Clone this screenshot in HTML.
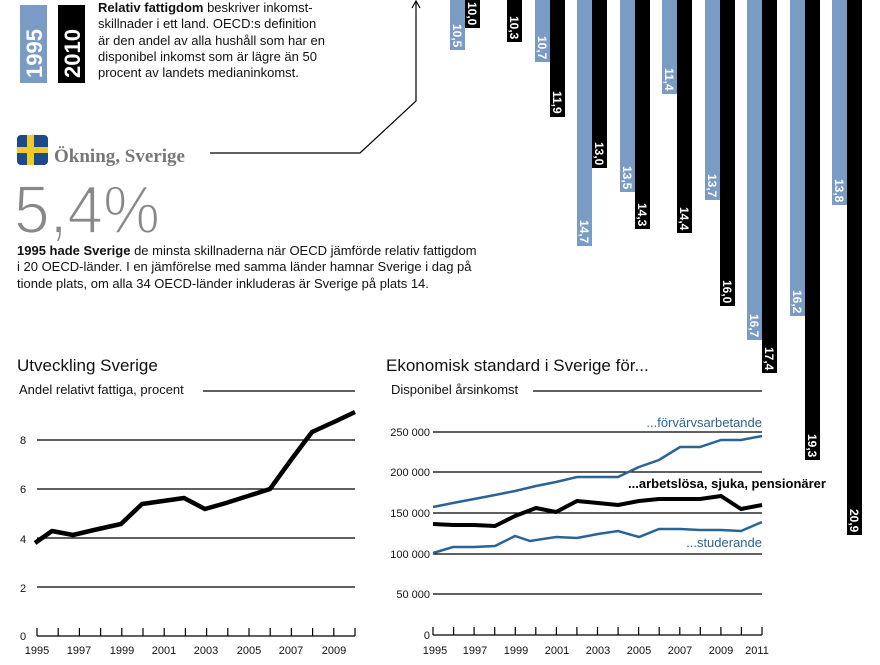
<!DOCTYPE html>
<html><head><meta charset="utf-8"><style>
body{margin:0;width:880px;height:665px;background:#fff;overflow:hidden;position:relative;font-family:"Liberation Sans","DejaVu Sans",sans-serif;color:#111}
.t{position:absolute;white-space:nowrap}
</style></head><body>
<svg width="880" height="665" style="position:absolute;left:0;top:0" font-family="Liberation Sans, DejaVu Sans, sans-serif">
<rect x="20" y="5" width="27" height="78" fill="#7a9cc4"/>
<rect x="58" y="5" width="27" height="78" fill="#000"/>
<text transform="translate(42,78) rotate(-90)" fill="#fff" font-weight="bold" font-size="22">1995</text>
<text transform="translate(80,78) rotate(-90)" fill="#fff" font-weight="bold" font-size="22">2010</text>
<rect x="17" y="135" width="31" height="30" rx="4" fill="#1e4a8a"/>
<rect x="27" y="135" width="7" height="30" fill="#f0c832"/>
<rect x="17" y="147" width="31" height="6" fill="#f0c832"/>
<polyline points="210,153 360,153 416,101 416,2" fill="none" stroke="#000" stroke-width="1.2"/>
<polyline points="412,8 416,1 420,8" fill="none" stroke="#000" stroke-width="1.2"/>
<text x="54" y="162" font-family="Liberation Serif, DejaVu Serif, serif" font-weight="bold" font-size="19" fill="#777">Ökning, Sverige</text>
<text x="14" y="233" font-size="68" fill="#888" stroke="#fff" stroke-width="1.8" textLength="146" lengthAdjust="spacingAndGlyphs">5,4%</text>
<g font-size="12" font-weight="bold" fill="#fff">
<rect x="450" y="0" width="15" height="50" fill="#7a9cc4"/><rect x="465" y="0" width="15" height="28" fill="#000"/>
<rect x="507" y="0" width="15" height="42" fill="#000"/>
<rect x="535" y="0" width="15" height="62" fill="#7a9cc4"/><rect x="550" y="0" width="15" height="117" fill="#000"/>
<rect x="577" y="0" width="15" height="246" fill="#7a9cc4"/><rect x="592" y="0" width="15" height="168" fill="#000"/>
<rect x="620" y="0" width="15" height="192" fill="#7a9cc4"/><rect x="635" y="0" width="15" height="229" fill="#000"/>
<rect x="662" y="0" width="15" height="94" fill="#7a9cc4"/><rect x="677" y="0" width="15" height="233" fill="#000"/>
<rect x="705" y="0" width="15" height="200" fill="#7a9cc4"/><rect x="720" y="0" width="15" height="306" fill="#000"/>
<rect x="747" y="0" width="15" height="340" fill="#7a9cc4"/><rect x="762" y="0" width="15" height="373" fill="#000"/>
<rect x="790" y="0" width="15" height="316" fill="#7a9cc4"/><rect x="805" y="0" width="15" height="460" fill="#000"/>
<rect x="832" y="0" width="15" height="205" fill="#7a9cc4"/><rect x="847" y="0" width="15" height="535" fill="#000"/>
<text transform="translate(453,24) rotate(90)">10,5</text>
<text transform="translate(468,2) rotate(90)">10,0</text>
<text transform="translate(510,16) rotate(90)">10,3</text>
<text transform="translate(538,36) rotate(90)">10,7</text>
<text transform="translate(553,91) rotate(90)">11,9</text>
<text transform="translate(580,220) rotate(90)">14,7</text>
<text transform="translate(595,142) rotate(90)">13,0</text>
<text transform="translate(623,166) rotate(90)">13,5</text>
<text transform="translate(638,203) rotate(90)">14,3</text>
<text transform="translate(665,68) rotate(90)">11,4</text>
<text transform="translate(680,207) rotate(90)">14,4</text>
<text transform="translate(708,174) rotate(90)">13,7</text>
<text transform="translate(723,280) rotate(90)">16,0</text>
<text transform="translate(750,314) rotate(90)">16,7</text>
<text transform="translate(765,347) rotate(90)">17,4</text>
<text transform="translate(793,290) rotate(90)">16,2</text>
<text transform="translate(808,434) rotate(90)">19,3</text>
<text transform="translate(835,179) rotate(90)">13,8</text>
<text transform="translate(850,509) rotate(90)">20,9</text>
</g>
<g stroke="#000" stroke-width="1.2">
<line x1="203" y1="391" x2="355" y2="391"/>
<line x1="37" y1="440" x2="355" y2="440"/><line x1="37" y1="489" x2="355" y2="489"/>
<line x1="37" y1="538" x2="355" y2="538"/><line x1="37" y1="587" x2="355" y2="587"/>
<line x1="37" y1="636" x2="355" y2="636"/>
<path d="M37,636v-8M58.2,636v-8M79.4,636v-8M100.6,636v-8M121.8,636v-8M143,636v-8M164.2,636v-8M185.4,636v-8M206.6,636v-8M227.8,636v-8M249,636v-8M270.2,636v-8M291.4,636v-8M312.6,636v-8M333.8,636v-8M355,636v-8"/>
</g>
<polyline fill="none" stroke="#000" stroke-width="4.5" stroke-linejoin="round" points="35,543 52,531 73,535 94,530 121,524 142,504 163,501 184,498 205,509 226,503 248,496 270,489 291,460 312,432 334,422 355,412"/>
<g font-size="11" fill="#111">
<text x="20" y="444">8</text><text x="20" y="493">6</text><text x="20" y="543">4</text><text x="20" y="592">2</text><text x="20" y="640">0</text>
<text x="37" y="654" text-anchor="middle">1995</text><text x="79" y="654" text-anchor="middle">1997</text><text x="122" y="654" text-anchor="middle">1999</text><text x="164" y="654" text-anchor="middle">2001</text><text x="206" y="654" text-anchor="middle">2003</text><text x="249" y="654" text-anchor="middle">2005</text><text x="291" y="654" text-anchor="middle">2007</text><text x="334" y="654" text-anchor="middle">2009</text>
</g>
<g stroke="#000" stroke-width="1.2">
<line x1="533" y1="391" x2="762" y2="391"/>
<line x1="433" y1="432" x2="762" y2="432"/><line x1="433" y1="472" x2="762" y2="472"/>
<line x1="433" y1="513" x2="762" y2="513"/><line x1="433" y1="554" x2="762" y2="554"/>
<line x1="433" y1="594" x2="762" y2="594"/><line x1="433" y1="635" x2="762" y2="635"/>
<path d="M433,635v-8M453.6,635v-8M474.1,635v-8M494.7,635v-8M515.3,635v-8M535.8,635v-8M556.4,635v-8M576.9,635v-8M597.5,635v-8M618.1,635v-8M638.6,635v-8M659.2,635v-8M679.8,635v-8M700.3,635v-8M720.9,635v-8M741.4,635v-8M762,635v-8"/>
</g>
<polyline fill="none" stroke="#2a6496" stroke-width="2.5" points="433,507 453,503 474,499 495,495 515,491 536,486 556,482 577,477 598,477 618,477 639,467 659,460 680,447 700,447 721,440 741,440 762,436"/>
<polyline fill="none" stroke="#2a6496" stroke-width="2.5" points="433,553 453,547 474,547 495,546 515,536 530,541 556,537 577,538 598,534 618,531 639,537 659,529 680,529 700,530 721,530 741,531 762,522"/>
<polyline fill="none" stroke="#000" stroke-width="4" stroke-linejoin="round" points="433,524 453,525 474,525 495,526 515,516 536,508 556,512 577,501 598,503 618,505 639,501 659,499 680,499 700,499 721,496 741,509 762,505"/>
<g font-size="11" fill="#111">
<text x="430" y="436" text-anchor="end">250 000</text><text x="430" y="476" text-anchor="end">200 000</text><text x="430" y="517" text-anchor="end">150 000</text><text x="430" y="558" text-anchor="end">100 000</text><text x="430" y="598" text-anchor="end">50 000</text><text x="430" y="639" text-anchor="end">0</text>
<text x="435" y="654" text-anchor="middle">1995</text><text x="475" y="654" text-anchor="middle">1997</text><text x="516" y="654" text-anchor="middle">1999</text><text x="557" y="654" text-anchor="middle">2001</text><text x="598" y="654" text-anchor="middle">2003</text><text x="639" y="654" text-anchor="middle">2005</text><text x="680" y="654" text-anchor="middle">2007</text><text x="721" y="654" text-anchor="middle">2009</text><text x="757" y="654" text-anchor="middle">2011</text>
</g>
<text x="762" y="427" text-anchor="end" font-size="13" fill="#2a6496">...förvärvsarbetande</text>
<text x="762" y="547" text-anchor="end" font-size="13" fill="#2a6496">...studerande</text>
<text x="628" y="488" font-size="13" font-weight="bold" fill="#000">...arbetslösa, sjuka, pensionärer</text>
</svg>
<div class="t" style="left:98px;top:0px;font-size:13px;line-height:16.3px">
<b>Relativ fattigdom</b> beskriver inkomst-<br>skillnader i ett land. OECD:s definition<br>är den andel av alla hushåll som har en<br>disponibel inkomst som är lägre än 50<br>procent av landets medianinkomst.</div>
<div class="t" style="left:17px;top:243px;font-size:13px;line-height:16.3px">
<b>1995 hade Sverige</b> de minsta skillnaderna när OECD jämförde relativ fattigdom<br>i 20 OECD-länder. I en jämförelse med samma länder hamnar Sverige i dag på<br>tionde plats, om alla 34 OECD-länder inkluderas är Sverige på plats 14.</div>
<div class="t" style="left:17px;top:356px;font-size:17px">Utveckling Sverige</div>
<div class="t" style="left:19px;top:382px;font-size:13px">Andel relativt fattiga, procent</div>
<div class="t" style="left:386px;top:356px;font-size:17px">Ekonomisk standard i Sverige för...</div>
<div class="t" style="left:391px;top:382px;font-size:13px">Disponibel årsinkomst</div>
</body></html>
